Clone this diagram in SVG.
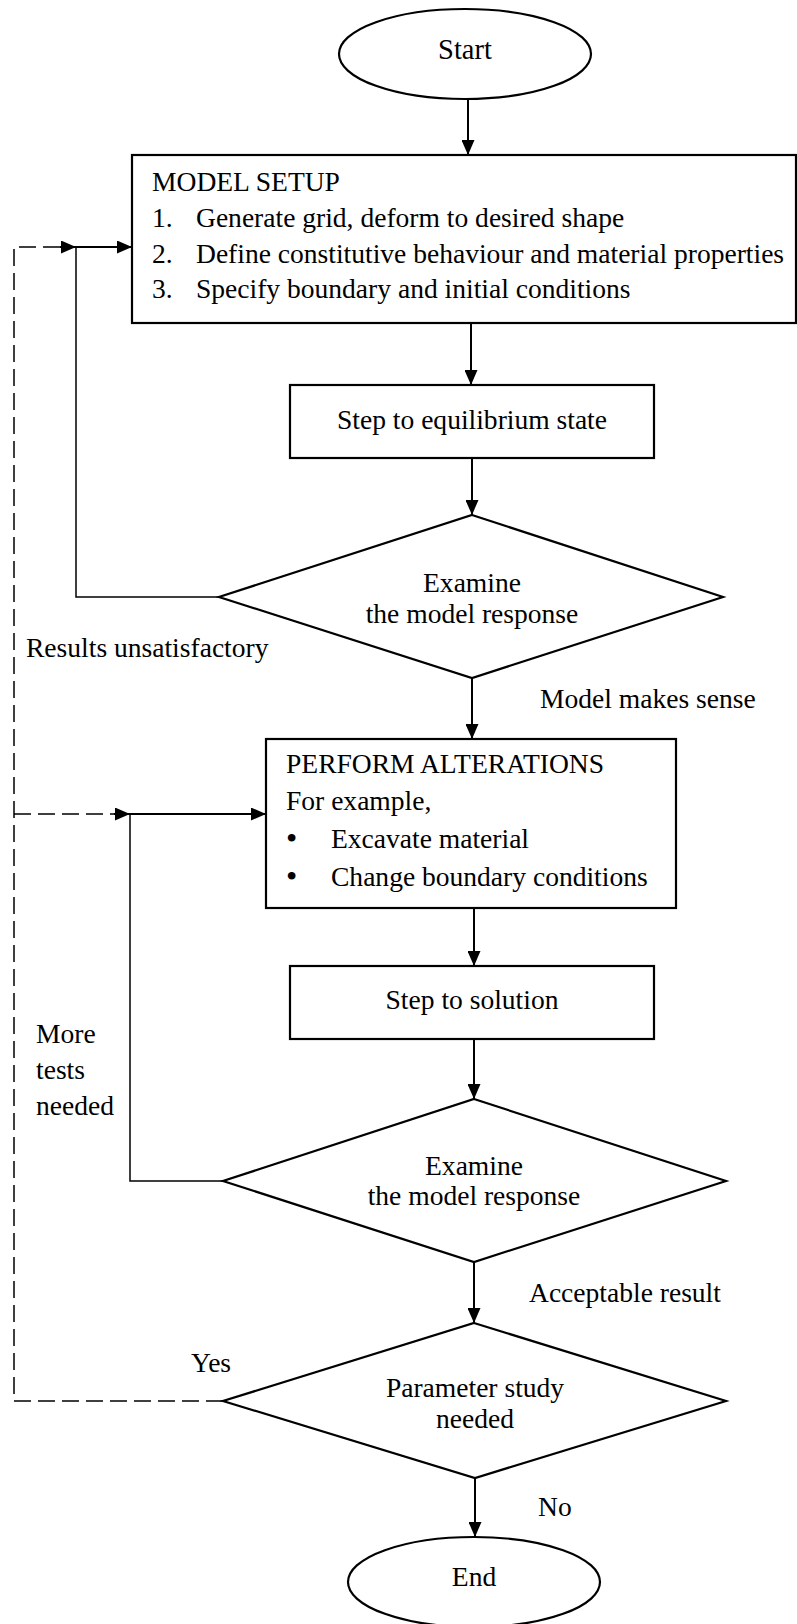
<svg xmlns="http://www.w3.org/2000/svg" width="797" height="1624" viewBox="0 0 797 1624">
<style>
.s{fill:#fff;stroke:#000;stroke-width:2.2}
.t{font-family:"Liberation Serif","Times New Roman",serif;font-size:26.5px;fill:#000}
.m{text-anchor:middle}
.c{fill:none;stroke:#000;stroke-width:2}
.l{fill:none;stroke:#000;stroke-width:1.5}
.d{fill:none;stroke:#000;stroke-width:1.5;stroke-dasharray:17 7}
</style>
<defs>
<marker id="ah" markerUnits="userSpaceOnUse" markerWidth="15" markerHeight="13" refX="15" refY="6.5" orient="auto"><path d="M0,0 L15,6.5 L0,13 z" fill="#000"/></marker>
</defs>
<rect width="797" height="1624" fill="#fff"/>
<g id="connectors">
<line class="c" x1="468" y1="99" x2="468" y2="155" marker-end="url(#ah)"/>
<line class="c" x1="471" y1="323" x2="471" y2="385" marker-end="url(#ah)"/>
<line class="c" x1="472" y1="458" x2="472" y2="515" marker-end="url(#ah)"/>
<line class="c" x1="472" y1="678" x2="472" y2="739" marker-end="url(#ah)"/>
<line class="c" x1="474" y1="908" x2="474" y2="966" marker-end="url(#ah)"/>
<line class="c" x1="474" y1="1039" x2="474" y2="1099" marker-end="url(#ah)"/>
<line class="c" x1="474" y1="1262" x2="474" y2="1323" marker-end="url(#ah)"/>
<line class="c" x1="475" y1="1478" x2="475" y2="1537" marker-end="url(#ah)"/>
<polyline class="l" points="219,597 76,597 76,247"/>
<line class="c" x1="76" y1="247" x2="132" y2="247" marker-end="url(#ah)"/>
<polyline class="l" points="223,1181 130,1181 130,814"/>
<line class="c" x1="130" y1="814" x2="266" y2="814" marker-end="url(#ah)"/>
<polyline class="d" points="223,1401 14,1401 14,247 60,247"/>
<line class="c" x1="60" y1="247" x2="76" y2="247" marker-end="url(#ah)"/>
<polyline class="d" points="14,814 114,814"/>
<line class="c" x1="114" y1="814" x2="130" y2="814" marker-end="url(#ah)"/>
<text class="t" transform="translate(26 657) scale(1.04 1)">Results unsatisfactory</text>
<text class="t" transform="translate(540 708) scale(1.04 1)">Model makes sense</text>
<text class="t" transform="translate(36 1043) scale(1.04 1)">More</text>
<text class="t" transform="translate(36 1079) scale(1.04 1)">tests</text>
<text class="t" transform="translate(36 1115) scale(1.04 1)">needed</text>
<text class="t" transform="translate(529 1302) scale(1.04 1)">Acceptable result</text>
<text class="t" transform="translate(191 1372) scale(1.04 1)">Yes</text>
<text class="t" transform="translate(538 1516) scale(1.04 1)">No</text>
</g>
<g id="start">
<ellipse class="s" cx="465" cy="54" rx="126" ry="45"/>
<text class="t m" style="font-size:28.5px" x="465" y="59">Start</text>
</g>
<g id="model-setup">
<rect class="s" x="132" y="155" width="664" height="168"/>
<text class="t" transform="translate(152 191) scale(1.04 1)">MODEL SETUP</text>
<text class="t" transform="translate(152 227) scale(1.04 1)">1.</text>
<text class="t" transform="translate(196 227) scale(1.04 1)">Generate grid, deform to desired shape</text>
<text class="t" transform="translate(152 263) scale(1.04 1)">2.</text>
<text class="t" transform="translate(196 263) scale(1.04 1)">Define constitutive behaviour and material properties</text>
<text class="t" transform="translate(152 298) scale(1.04 1)">3.</text>
<text class="t" transform="translate(196 298) scale(1.04 1)">Specify boundary and initial conditions</text>
</g>
<g id="step-equilibrium">
<rect class="s" x="290" y="385" width="364" height="73"/>
<text class="t m" transform="translate(472 429) scale(1.04 1)">Step to equilibrium state</text>
</g>
<g id="examine-1">
<polygon class="s" points="472,515 723,597 472,678 219,597"/>
<text class="t m" transform="translate(472 592) scale(1.04 1)">Examine</text>
<text class="t m" transform="translate(472 623) scale(1.04 1)">the model response</text>
</g>
<g id="perform-alterations">
<rect class="s" x="266" y="739" width="410" height="169"/>
<text class="t" transform="translate(286 773) scale(1.04 1)">PERFORM ALTERATIONS</text>
<text class="t" transform="translate(286 810) scale(1.04 1)">For example,</text>
<text class="t" style="font-size:31px" transform="translate(286 849) scale(1.04 1)">•</text>
<text class="t" transform="translate(331 848) scale(1.04 1)">Excavate material</text>
<text class="t" style="font-size:31px" transform="translate(286 887) scale(1.04 1)">•</text>
<text class="t" transform="translate(331 886) scale(1.04 1)">Change boundary conditions</text>
</g>
<g id="step-solution">
<rect class="s" x="290" y="966" width="364" height="73"/>
<text class="t m" transform="translate(472 1009) scale(1.04 1)">Step to solution</text>
</g>
<g id="examine-2">
<polygon class="s" points="474,1099 726,1181 474,1262 223,1181"/>
<text class="t m" transform="translate(474 1175) scale(1.04 1)">Examine</text>
<text class="t m" transform="translate(474 1205) scale(1.04 1)">the model response</text>
</g>
<g id="parameter-study">
<polygon class="s" points="474,1323 726,1401 475,1478 223,1401"/>
<text class="t m" transform="translate(475 1397) scale(1.04 1)">Parameter study</text>
<text class="t m" transform="translate(475 1428) scale(1.04 1)">needed</text>
</g>
<g id="end">
<ellipse class="s" cx="474" cy="1582" rx="126" ry="45"/>
<text class="t m" transform="translate(474 1586) scale(1.04 1)">End</text>
</g>
</svg>
